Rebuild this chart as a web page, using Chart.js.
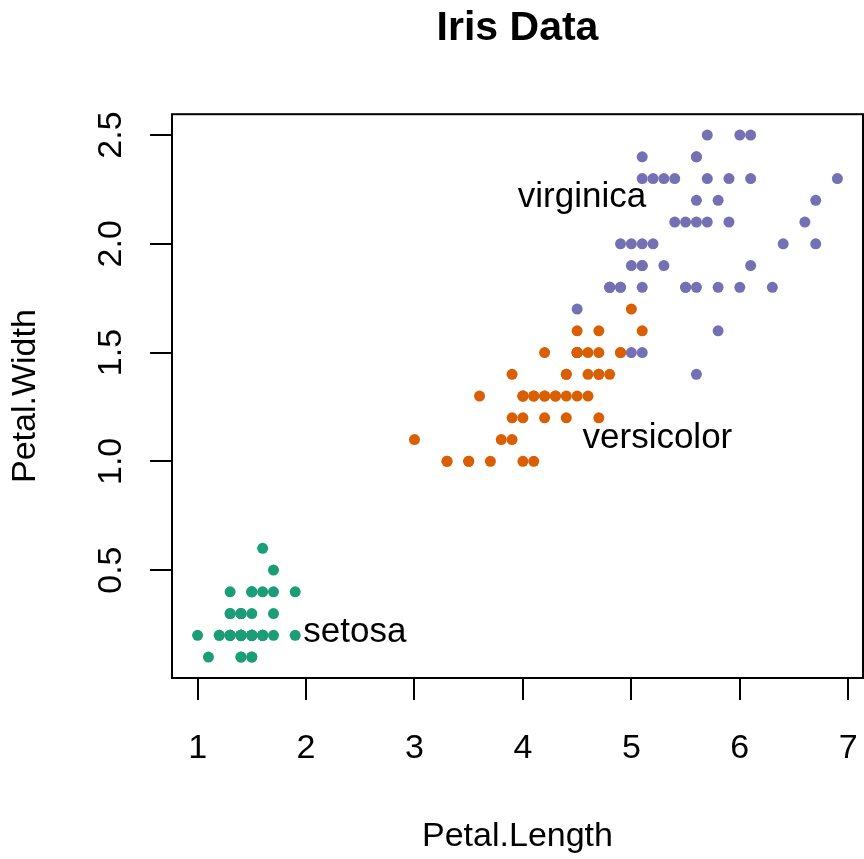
<!DOCTYPE html>
<html>
<head>
<meta charset="utf-8">
<title>Iris Data</title>
<script src="https://cdn.jsdelivr.net/npm/chart.js@4"></script>
<style>
  html, body { margin: 0; padding: 0; background: #fff; }
  canvas { display: block; }
</style>
</head>
<body>
<canvas id="iris" width="864" height="859"></canvas>
<script>
// ---- data (iris, petal length / width by species) ----
const species = ['setosa', 'versicolor', 'virginica'];

const setosaLength = [1.4,1.4,1.3,1.5,1.4,1.7,1.4,1.5,1.4,1.5,1.5,1.6,1.4,1.1,1.2,1.5,1.3,1.4,1.7,1.5,1.7,1.5,1.0,1.7,1.9,
                      1.6,1.6,1.5,1.4,1.6,1.6,1.5,1.5,1.4,1.5,1.2,1.3,1.4,1.3,1.5,1.3,1.3,1.3,1.6,1.9,1.4,1.6,1.4,1.5,1.4];
const setosaWidth  = [0.2,0.2,0.2,0.2,0.2,0.4,0.3,0.2,0.2,0.1,0.2,0.2,0.1,0.1,0.2,0.4,0.4,0.3,0.3,0.3,0.2,0.4,0.2,0.5,0.2,
                      0.2,0.4,0.2,0.2,0.2,0.2,0.4,0.1,0.2,0.2,0.2,0.2,0.1,0.2,0.2,0.3,0.3,0.2,0.6,0.4,0.3,0.2,0.2,0.2,0.2];

const versicolorLength = [4.7,4.5,4.9,4.0,4.6,4.5,4.7,3.3,4.6,3.9,3.5,4.2,4.0,4.7,3.6,4.4,4.5,4.1,4.5,3.9,4.8,4.0,4.9,4.7,4.3,
                          4.4,4.8,5.0,4.5,3.5,3.8,3.7,3.9,5.1,4.5,4.5,4.7,4.4,4.1,4.0,4.4,4.6,4.0,3.3,4.2,4.2,4.2,4.3,3.0,4.1];
const versicolorWidth  = [1.4,1.5,1.5,1.3,1.5,1.3,1.6,1.0,1.3,1.4,1.0,1.5,1.0,1.4,1.3,1.4,1.5,1.0,1.5,1.1,1.8,1.3,1.5,1.2,1.3,
                          1.4,1.4,1.7,1.5,1.0,1.1,1.0,1.2,1.6,1.5,1.6,1.5,1.3,1.3,1.3,1.2,1.4,1.2,1.0,1.3,1.2,1.3,1.3,1.1,1.3];

const virginicaLength = [6.0,5.1,5.9,5.6,5.8,6.6,4.5,6.3,5.8,6.1,5.1,5.3,5.5,5.0,5.1,5.3,5.5,6.7,6.9,5.0,5.7,4.9,6.7,4.9,5.7,
                         6.0,4.8,4.9,5.6,5.8,6.1,6.4,5.6,5.1,5.6,6.1,5.6,5.5,4.8,5.4,5.6,5.1,5.1,5.9,5.7,5.2,5.0,5.2,5.4,5.1];
const virginicaWidth  = [2.5,1.9,2.1,1.8,2.2,2.1,1.7,1.8,1.8,2.5,2.0,1.9,2.1,2.0,2.4,2.3,1.8,2.2,2.3,1.5,2.3,2.0,2.0,1.8,2.1,
                         1.8,1.8,1.8,2.1,1.6,1.9,2.0,2.2,1.5,1.4,2.3,2.4,1.8,1.8,2.1,2.4,2.3,1.9,2.3,2.5,2.3,1.9,2.0,2.3,1.8];

// text labels placed in the plot (data units)
const labelX = [2.45, 5.24, 4.545];
const labelY = [0.17, 1.06, 2.17];

const xTicks = [1, 2, 3, 4, 5, 6, 7];
const yTicks = [0.5, 1.0, 1.5, 2.0, 2.5];

const colors = ['#1B9E77', '#D95F02', '#7570B3'];

// ---- chart ----
const FONT = '"Liberation Sans", Arial, Helvetica, sans-serif';
Chart.defaults.font.family = FONT;
Chart.defaults.color = '#000';

function pts(xs, ys) {
  return xs.map((x, i) => ({ x: x, y: ys[i] }));
}

// box around the plot region + species labels
const boxAndLabels = {
  id: 'boxAndLabels',
  afterDraw(chart) {
    const { ctx, chartArea: a, scales } = chart;
    ctx.save();
    ctx.strokeStyle = '#000';
    ctx.lineWidth = 2;
    ctx.strokeRect(a.left, a.top, a.right - a.left, a.bottom - a.top);

    ctx.fillStyle = '#000';
    ctx.font = '35px ' + FONT;
    ctx.textAlign = 'center';
    ctx.textBaseline = 'alphabetic';
    species.forEach((name, i) => {
      ctx.fillText(name, scales.x.getPixelForValue(labelX[i]), scales.y.getPixelForValue(labelY[i]));
    });
    ctx.restore();
  }
};

const tickGrid = {
  display: true,
  drawOnChartArea: false,
  drawTicks: true,
  tickLength: 22,
  color: '#000',
  lineWidth: 2
};

new Chart(document.getElementById('iris'), {
  type: 'scatter',
  data: {
    datasets: [
      { label: species[0], data: pts(setosaLength, setosaWidth), backgroundColor: colors[0], order: 2 },
      { label: species[1], data: pts(versicolorLength, versicolorWidth), backgroundColor: colors[1], order: 1 },
      { label: species[2], data: pts(virginicaLength, virginicaWidth), backgroundColor: colors[2], order: 0 }
    ]
  },
  options: {
    responsive: false,
    animation: false,
    devicePixelRatio: 1,
    elements: { point: { radius: 5.5, borderWidth: 0, hoverRadius: 5.5 } },
    layout: { autoPadding: false, padding: { top: 0, left: 0, right: 1, bottom: 0 } },
    plugins: {
      legend: { display: false },
      tooltip: { enabled: false },
      title: {
        display: true,
        fullSize: false,
        text: 'Iris Data',
        color: '#000',
        font: { size: 41, weight: 'bold', lineHeight: 1.2 },
        padding: { top: 4, bottom: 61 }
      }
    },
    scales: {
      x: {
        type: 'linear',
        min: 0.764,
        max: 7.136,
        afterBuildTicks: s => { s.ticks = xTicks.map(v => ({ value: v })); },
        afterFit: s => { s.height = 181; s.paddingLeft = 0; s.paddingRight = 0; },
        grid: tickGrid,
        border: { display: false },
        ticks: {
          autoSkip: false,
          maxRotation: 0,
          padding: 28,
          font: { size: 34 },
          callback: v => String(v)
        },
        title: {
          display: true,
          text: 'Petal.Length',
          font: { size: 34 },
          padding: { top: 0, bottom: 2 }
        }
      },
      y: {
        type: 'linear',
        min: 0.004,
        max: 2.596,
        afterBuildTicks: s => { s.ticks = yTicks.map(v => ({ value: v })); },
        afterFit: s => { s.width = 172; s.paddingTop = 0; s.paddingBottom = 0; },
        grid: tickGrid,
        border: { display: false },
        ticks: {
          autoSkip: false,
          minRotation: 90,
          maxRotation: 90,
          crossAlign: 'center',
          padding: 15,
          font: { size: 34 },
          callback: v => v.toFixed(1)
        },
        title: {
          display: true,
          text: 'Petal.Width',
          font: { size: 34 },
          padding: { top: 5, bottom: 0 }
        }
      }
    }
  },
  plugins: [boxAndLabels]
});
</script>
</body>
</html>
